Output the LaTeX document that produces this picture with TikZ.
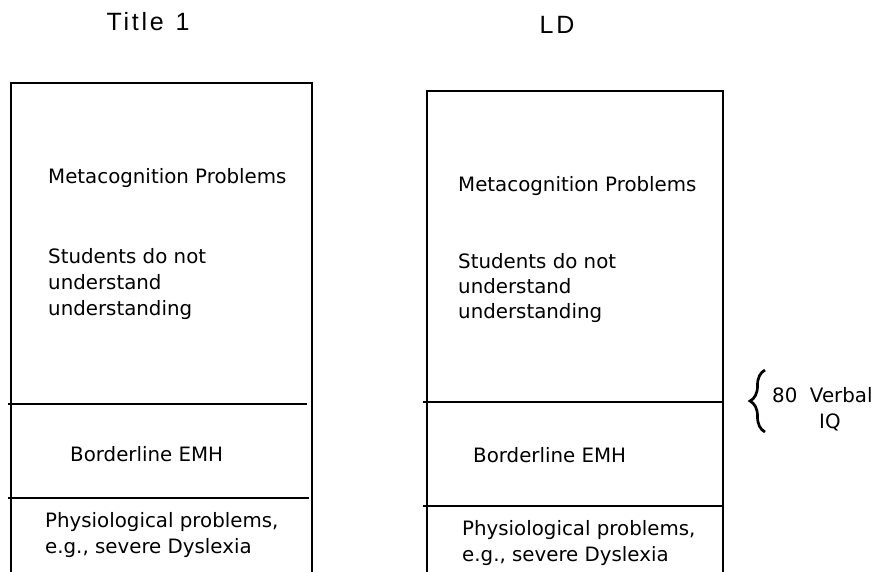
\documentclass[tikz,border=0pt]{standalone}
\usepackage{fontspec}
\setmainfont{DejaVu Sans}
\newfontfamily\titlefont[LetterSpace=11]{Liberation Sans}
\usetikzlibrary{decorations.pathreplacing}
\tikzset{
  body/.style={anchor=base west, inner sep=0pt, font=\fontsize{19.8}{23}\selectfont},
  ttl/.style={anchor=base, inner sep=0pt, font=\titlefont\fontsize{25}{29}\selectfont},
  frame/.style={line width=2.4pt},
  divider/.style={line width=2.2pt}
}
\begin{document}
\begin{tikzpicture}[x=1pt,y=-1pt]
\useasboundingbox (0,0) rectangle (875,571);
% titles
\node[ttl] (t1) at (148,30) {Title\hspace{2pt} 1};
\node[ttl] (t2) at (557,33) {LD};
% left column
\draw[frame] (10.7,575) -- (10.7,83) -- (312,83) -- (312,575);
\draw[divider] (8,404) -- (307,404);
\draw[divider] (8,498) -- (309,498);
\node[body] (lm) at (48,183) {Metacognition Problems};
\node[body] (ls1) at (48,263) {Students do not};
\node[body] (ls2) at (48,289) {understand};
\node[body] (ls3) at (48,315) {understanding};
\node[body] (lb) at (70,461) {Borderline EMH};
\node[body] (lp1) at (45,527) {Physiological problems,};
\node[body] (lp2) at (45,553) {e.g., severe Dyslexia};
% right column
\draw[frame] (426.7,575) -- (426.7,91) -- (723,91) -- (723,575);
\draw[divider] (423,402) -- (723,402);
\draw[divider] (423,506) -- (723,506);
\node[body] (rm) at (458,191) {Metacognition Problems};
\node[body] (rs1) at (458,268) {Students do not};
\node[body] (rs2) at (458,293) {understand};
\node[body] (rs3) at (458,318) {understanding};
\node[body] (rb) at (473,462) {Borderline EMH};
\node[body] (rp1) at (462,535) {Physiological problems,};
\node[body] (rp2) at (462,561) {e.g., severe Dyslexia};
% brace
\coordinate (bt) at (765,370);
\coordinate (bb) at (765,432);
\draw[line width=2.7pt, decorate, decoration={brace, amplitude=15pt}] (bb) -- (bt);
\node[body] (v1) at (772,402) {80\ \ Verbal};
\node[body] (v2) at (819,428) {IQ};
\end{tikzpicture}
\end{document}
